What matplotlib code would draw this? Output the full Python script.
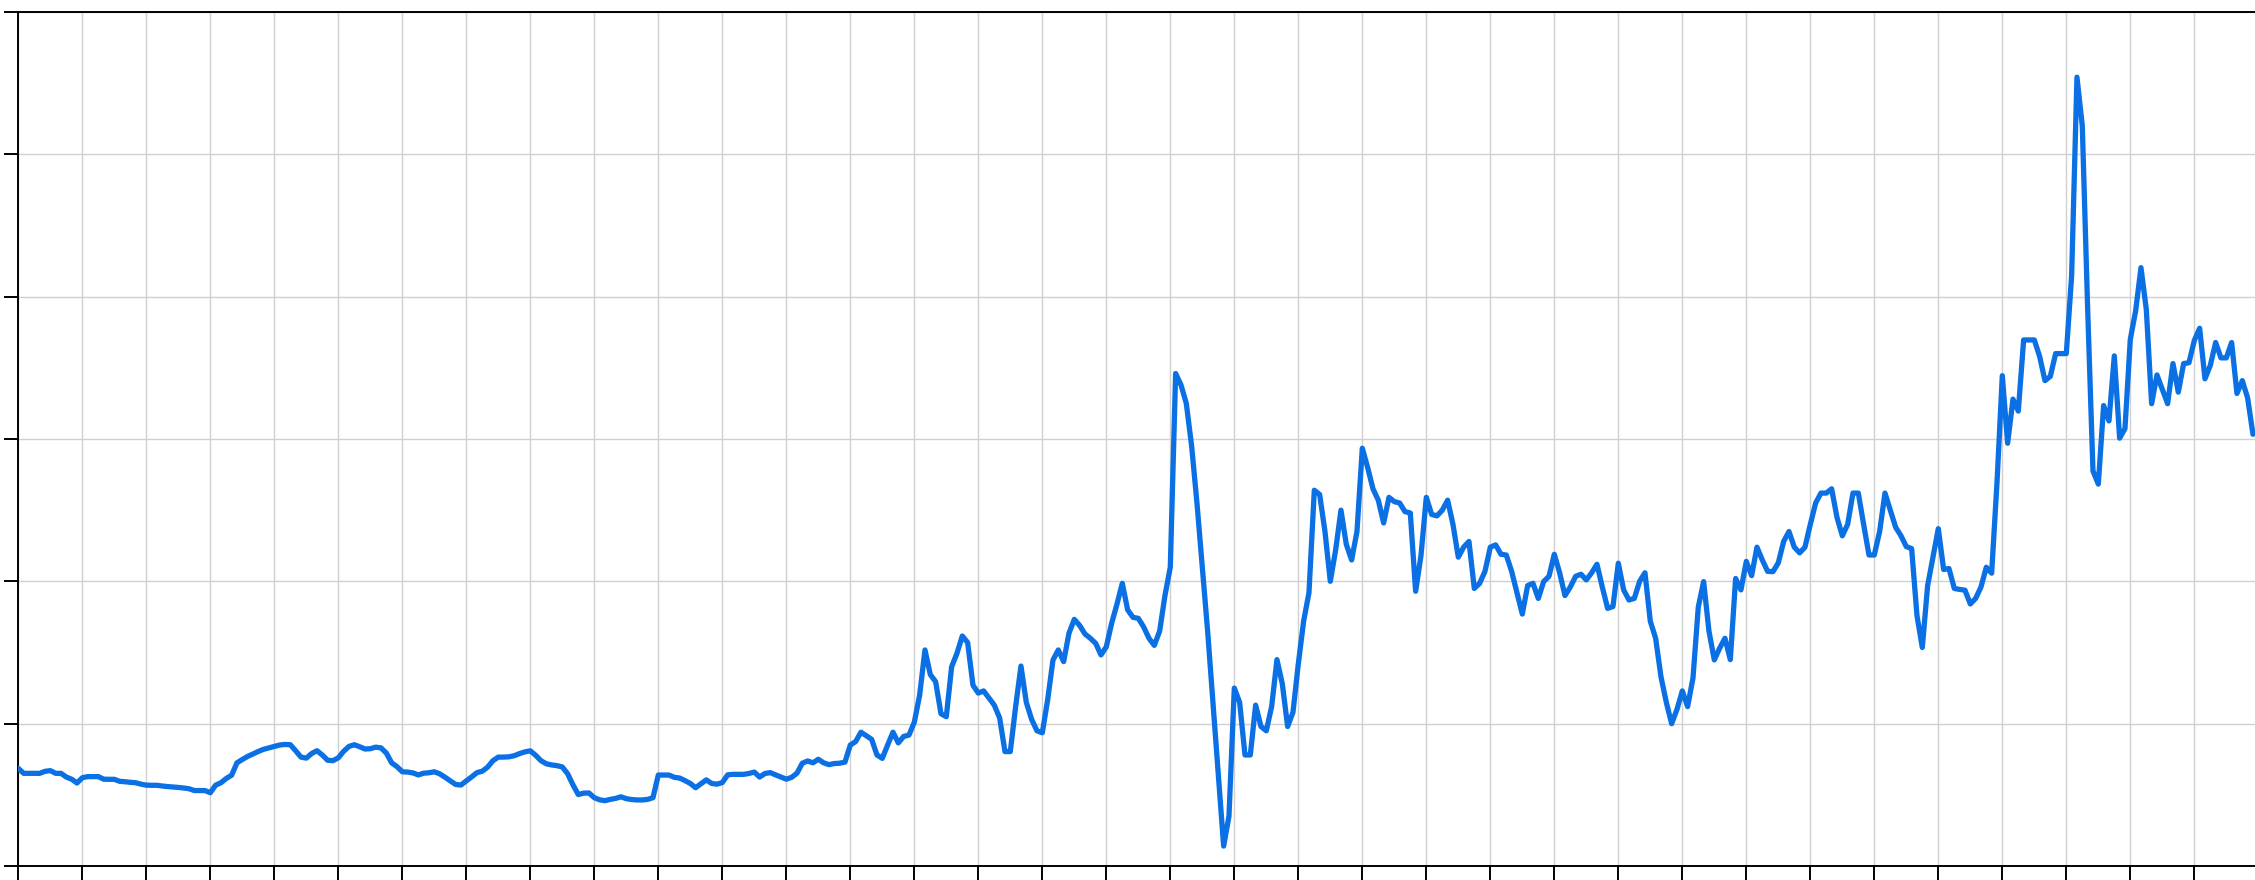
import matplotlib
matplotlib.use("Agg")
import matplotlib.pyplot as plt
import numpy as np

# Monthly values (35 years x 12 months)
values = [
    68.6, 65.1, 65.1, 65.1, 65.1, 66.5, 67, 65.1, 65.1, 62.5, 61, 58.3,
    62, 62.8, 62.8, 62.8, 61, 60.9, 60.9, 59.5, 59.2, 58.8, 58.5, 57.5,
    56.8, 56.7, 56.7, 56.2, 55.8, 55.5, 55.2, 54.8, 54.3, 53, 53, 53,
    51.5, 56.8, 58.5, 61.5, 63.8, 72.5, 74.8, 77, 78.7, 80.5, 82, 83,
    84, 85, 85.4, 85.2, 81, 76.5, 75.8, 79, 81, 78, 74.3, 74,
    76, 80.6, 84, 85.2, 83.8, 82.2, 82.4, 83.5, 83, 79.4, 72.5, 69.8,
    66.2, 66, 65.4, 64, 65.2, 65.5, 66.2, 64.8, 62.4, 59.8, 57.3, 56.9,
    59.8, 62.6, 65.6, 66.6, 69.5, 74, 76.5, 76.5, 76.7, 77.5, 79, 80.2,
    80.9, 77.8, 74, 71.8, 71, 70.5, 69.6, 64.8, 57, 50.2, 51.2, 51.3,
    48, 46.5, 45.9, 46.8, 47.5, 48.6, 47.3, 46.7, 46.4, 46.4, 46.8, 48,
    63.9, 63.9, 63.9, 62.3, 61.8, 60, 58, 55, 57.8, 60.5, 58, 57.5,
    58.6, 64, 64.4, 64.4, 64.4, 65, 66, 62.5, 65, 65.6, 64, 62.5,
    61, 62.3, 65.2, 72.2, 73.8, 72.5, 75, 72.5, 71.2, 72, 72.2, 73,
    85, 87.4, 94, 91.5, 89, 78, 75.6, 85, 94, 86.5, 91, 92,
    101, 120, 151.8, 134.5, 129.5, 107, 104.9, 140, 149.4, 161.6, 157, 127,
    121.5, 123, 118, 113, 104, 80.4, 80.4, 112, 140.5, 115, 103, 95,
    93.6, 116.6, 144.7, 151.8, 143.6, 163.5, 173.3, 169, 163, 160, 156.5, 148.3,
    154, 170.5, 184, 198.6, 180, 174.7, 174, 168, 160, 155, 165, 190,
    210, 346, 338, 325, 295, 255, 210, 165, 115, 65, 14, 35,
    125, 115, 78, 78, 113, 98, 95, 112, 145, 128, 98, 108,
    142, 172, 192, 264, 261, 235, 200, 222, 250, 226, 215, 235,
    293.5, 280, 265, 257, 241, 259, 256, 255, 249, 248, 193, 218,
    259, 247, 246, 250, 257, 240, 217, 224, 228, 195, 198.6, 207,
    224, 225.6, 219, 218.5, 207, 192, 177, 197, 198.6, 188, 199.8, 203.5,
    219, 206, 190, 196, 203.5, 205, 201, 206, 212, 196, 181, 182.3,
    212.7, 194, 186.9, 188, 200, 206, 172, 160, 133, 115, 100, 110,
    123, 112, 132, 182, 199.8, 165, 144.8, 153, 160, 145, 202, 194,
    214, 204, 224, 215, 207, 206.8, 213, 228, 235, 224, 220, 224,
    240, 255, 262, 262, 265, 245, 232, 240, 262, 262, 240, 218.5,
    218.5, 235, 262, 250, 238, 232, 224.4, 223, 176, 153.5, 197, 217,
    237, 208.3, 209, 195, 194.3, 193.8, 184.1, 188, 196, 209.9, 205.7, 269,
    344.5, 297, 328, 319.6, 369.6, 369.6, 369.6, 358, 341, 344, 360, 360,
    360, 414.7, 554.2, 520, 392, 277.6, 268.3, 323.5, 312.7, 358.4, 300.6, 307.3,
    370, 390, 420.4, 391, 324.8, 345, 335, 324.8, 353, 332.9, 353, 353.6,
    369.2, 377.8, 342.3, 351.7, 367.8, 357, 357, 367.8, 332, 341, 328.8, 303.3,
]
months = np.arange(len(values))
x_ticks = np.arange(0, 421, 12)
y_ticks = np.arange(0, 601, 100)

W, H = 2255, 880
fig = plt.figure(figsize=(W / 100, H / 100), dpi=100)
ax = fig.add_axes([18.3 / W, 14 / H, 2240 / W, 854 / H])
ax.plot(months, values, color="#0a70e3", lw=3.8,
        solid_joinstyle="round", solid_capstyle="round", zorder=3)
ax.set_xlim(0, 420)
ax.set_ylim(0, 600)
ax.set_xticks(x_ticks)
ax.set_yticks(y_ticks)
ax.set_xticklabels([])
ax.set_yticklabels([])
ax.tick_params(direction="out", length=10, width=1.4, color="black")
ax.grid(True, color="#d0d0d0", lw=1.0)
ax.set_axisbelow(True)
for s in ["left", "bottom", "top"]:
    ax.spines[s].set_linewidth(1.4)
    ax.spines[s].set_color("black")
ax.spines["right"].set_visible(False)
fig.savefig("out.png", dpi=100)
